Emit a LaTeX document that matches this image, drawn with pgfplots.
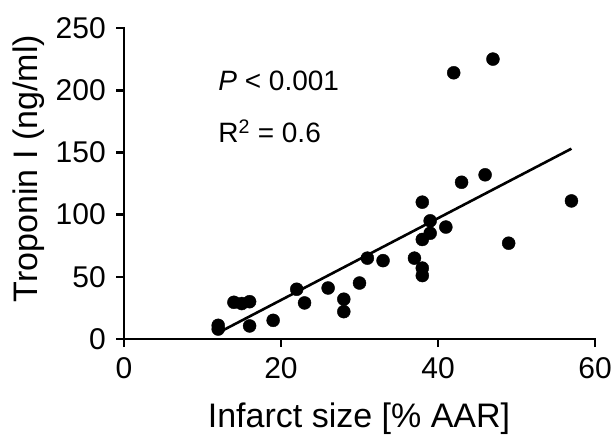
\documentclass[border=0pt]{standalone}
\usepackage{fontspec}
\setmainfont{Liberation Sans}
\usepackage{pgfplots}
\pgfplotsset{compat=1.18}
\begin{document}
\begin{tikzpicture}
\begin{axis}[
  name=ax,
  scale only axis,
  width=471pt, height=311pt,
  xmin=0, xmax=60, ymin=0, ymax=250,
  axis lines*=left,
  axis line style={line width=2.6pt, line cap=rect},
  xtick={0,20,40,60},
  ytick={0,50,100,150,200,250},
  tick align=outside,
  major tick length=8pt,
  tick style={line width=2.6pt, black},
  /pgf/number format/assume math mode=true,
  ticklabel style={font=\fontsize{30}{36}\selectfont},
  xticklabel style={inner sep=0pt, yshift=-10pt},
  yticklabel style={inner sep=0pt, xshift=-10pt},
  xlabel={Infarct size [\% AAR]},
  ylabel={Troponin I (ng/ml)},
  every axis x label/.style={at={(axis description cs:0.499,-0.283)}, anchor=base, font=\fontsize{34}{40}\selectfont},
  every axis y label/.style={at={(axis description cs:-0.184,0.548)}, anchor=base, rotate=90, font=\fontsize{34}{40}\selectfont},
  clip=false,
]
\addplot[only marks, mark=*, mark size=6.5pt, mark options={fill=black, draw=black}] coordinates {
(12,11) (12,8) (14,29.5) (15,28.5) (16,30) (16,10.5) (19,15) (22,40) (23,29)
(26,41) (28,32) (28,22) (30,45) (31,65) (33,63) (37,65) (38,57) (38,51)
(38,110) (38,80) (39,95) (39,85) (41,90) (42,214) (43,126) (46,132) (47,225)
(49,77) (57,111)
};
\addplot[black, line width=2.6pt] coordinates {(12,5) (57,153)};
\node[anchor=base west, inner sep=0pt, font=\fontsize{28}{34}\selectfont] at (axis cs:12,200) {\textit{P} < 0.001};
\node[anchor=base west, inner sep=0pt, font=\fontsize{28}{34}\selectfont] at (axis cs:12,158) {R\textsuperscript{2} = 0.6};
\end{axis}
\pgfresetboundingbox
\path[use as bounding box] ([xshift=-124pt,yshift=-97pt]ax.south west) rectangle ([xshift=21pt,yshift=28pt]ax.north east);
\end{tikzpicture}
\end{document}
